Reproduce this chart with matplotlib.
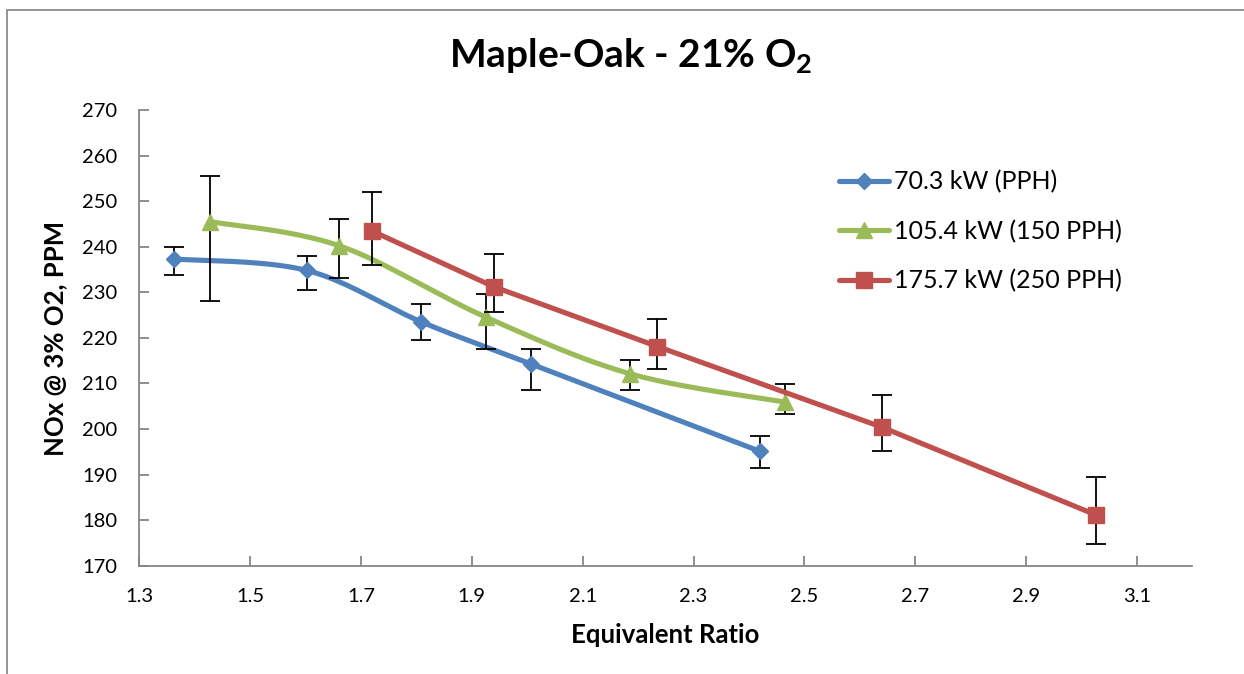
import numpy as np
import matplotlib
matplotlib.use("Agg")
import matplotlib.pyplot as plt
from matplotlib.lines import Line2D
from matplotlib.patches import Rectangle

plt.rcParams['font.family'] = ['Lato', 'DejaVu Sans']
plt.rcParams['mathtext.fontset'] = 'custom'
plt.rcParams['mathtext.rm'] = 'Lato'
plt.rcParams['mathtext.bf'] = 'Lato:bold'

# ---- data -------------------------------------------------------------
labels = ["70.3 kW (PPH)", "105.4 kW (150 PPH)", "175.7 kW (250 PPH)"]

x_70 = [1.363, 1.602, 1.809, 2.006, 2.420]
y_70 = [237.3, 234.8, 223.5, 214.3, 195.1]
lo_70 = [233.9, 230.6, 219.6, 208.5, 191.4]
hi_70 = [240.0, 238.0, 227.4, 217.5, 198.4]

x_105 = [1.428, 1.661, 1.926, 2.186, 2.465]
y_105 = [245.5, 240.2, 224.5, 212.1, 205.9]
lo_105 = [228.1, 233.1, 217.6, 208.6, 203.2]
hi_105 = [255.5, 246.0, 229.7, 215.2, 209.9]

x_176 = [1.719, 1.940, 2.235, 2.640, 3.027]
y_176 = [243.5, 231.2, 218.1, 200.4, 181.1]
lo_176 = [235.9, 225.6, 213.1, 195.1, 174.7]
hi_176 = [252.1, 238.5, 224.2, 207.4, 189.4]

x_ticks = [1.3, 1.5, 1.7, 1.9, 2.1, 2.3, 2.5, 2.7, 2.9, 3.1]
y_ticks = [170, 180, 190, 200, 210, 220, 230, 240, 250, 260, 270]

colors = ["#4F81BD", "#9BBB59", "#C0504D"]
markers = ["D", "^", "s"]
msizes = [8.0, 12.0, 12.0]
smooth = [True, True, False]


def bezier_smooth(xs, ys, n=40):
    """Smoothed line: cubic Bezier segments with Catmull-Rom
    control points (tension 1/6)."""
    p = np.column_stack([xs, ys]).astype(float)
    m = len(p)
    out = [p[0]]
    for i in range(m - 1):
        p0 = p[i - 1] if i > 0 else p[i]
        p1 = p[i]
        p2 = p[i + 1]
        p3 = p[i + 2] if i + 2 < m else p[i + 1]
        c1 = p1 + (p2 - p0) / 6.0
        c2 = p2 - (p3 - p1) / 6.0
        t = np.linspace(0, 1, n)[1:, None]
        seg = ((1 - t) ** 3) * p1 + 3 * ((1 - t) ** 2) * t * c1 \
            + 3 * (1 - t) * t ** 2 * c2 + t ** 3 * p2
        out.extend(seg)
    out = np.array(out)
    return out[:, 0], out[:, 1]


W, H = 1244, 674
fig = plt.figure(figsize=(W / 100, H / 100), dpi=100)
ax = fig.add_axes([139.3 / W, 1 - 565.7 / H, (1192.3 - 139.3) / W, (565.7 - 110) / H])

series = [
    (x_70, y_70, lo_70, hi_70),
    (x_105, y_105, lo_105, hi_105),
    (x_176, y_176, lo_176, hi_176),
]

handles = []
for k, (xs, ys, lo, hi) in enumerate(series):
    xs = np.asarray(xs); ys = np.asarray(ys)
    lo = np.asarray(lo); hi = np.asarray(hi)
    if smooth[k]:
        sx, sy = bezier_smooth(xs, ys)
    else:
        sx, sy = xs, ys
    ax.plot(sx, sy, color=colors[k], lw=3.7, solid_capstyle='round',
            solid_joinstyle='round', zorder=2 + k * 3)
    ax.errorbar(xs, ys, yerr=[ys - lo, hi - ys], fmt='none', ecolor='black',
                elinewidth=1.3, capsize=7.5, capthick=1.3, zorder=3 + k * 3)
    ax.plot(xs, ys, linestyle='none', marker=markers[k], ms=msizes[k],
            color=colors[k], markeredgecolor=colors[k], zorder=4 + k * 3)
    handles.append(Line2D([], [], color=colors[k], lw=3.7, marker=markers[k],
                          ms=msizes[k], solid_capstyle='round'))

ax.set_xlim(1.3, 3.2)
ax.set_ylim(170, 270)
ax.set_xticks(x_ticks)
ax.set_xticklabels([f"{v:.1f}" for v in x_ticks])
ax.set_yticks(y_ticks)
ax.set_yticklabels([str(v) for v in y_ticks])

for side in ("top", "right"):
    ax.spines[side].set_visible(False)
for side in ("left", "bottom"):
    ax.spines[side].set_color("#868686")
    ax.spines[side].set_linewidth(1.3)
ax.tick_params(direction='in', length=7, width=1.3, color="#868686",
               labelsize=14.5, labelcolor='black')
ax.tick_params(axis='x', pad=16)
ax.tick_params(axis='y', pad=16)

fig.text(631 / W, 1 - 56 / H, r"Maple-Oak - 21% O$_\mathbf{2}$", fontsize=28,
         fontweight='bold', ha='center', va='center')
fig.text(665 / W, 1 - 635 / H, "Equivalent Ratio", fontsize=18.5,
         fontweight='bold', ha='center', va='center')
fig.text(55 / W, 1 - 338 / H, "NOx @ 3% O2, PPM", fontsize=18.5,
         fontweight='bold', ha='center', va='center', rotation=90)

fig.legend(handles, labels, loc='upper left',
           bbox_to_anchor=(839 / W, 1 - 170 / H), bbox_transform=fig.transFigure,
           frameon=False, fontsize=18, handlelength=2.0, handletextpad=0.2,
           labelspacing=1.05, borderpad=0, borderaxespad=0)

# outer chart-area border
fig.patches.append(Rectangle((7.5 / W, -0.1), 1.2, 1.1 - 10 / H,
                             transform=fig.transFigure, fill=False,
                             edgecolor="#8c8c8c", lw=1.3))

fig.savefig("out.png", dpi=100)
